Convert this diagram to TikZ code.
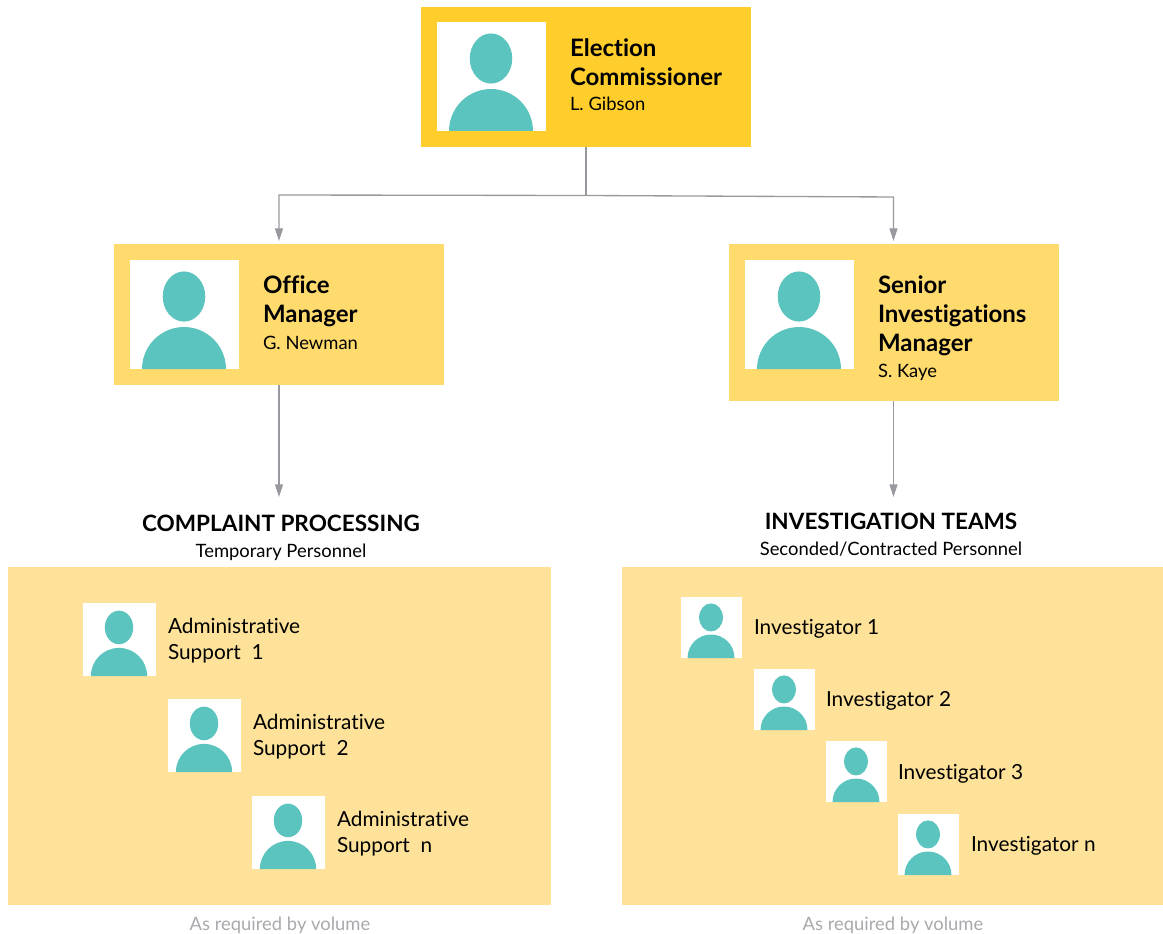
\documentclass[tikz,border=0pt]{standalone}
\usepackage{fontspec}
\setmainfont{Lato}[Ligatures=NoCommon]
\definecolor{topbox}{HTML}{FFCE2C}
\definecolor{midbox}{HTML}{FFDB6E}
\definecolor{panel}{HTML}{FEE299}
\definecolor{teal}{HTML}{5CC4BE}
\definecolor{conn}{HTML}{97999E}
\definecolor{greytext}{HTML}{A7A9AC}
\usetikzlibrary{arrows.meta}
\tikzset{
  x=0.75pt,y=-0.75pt,
  rbox/.style={inner sep=0,outer sep=0,anchor=north west,draw=none},
  flow/.style={draw=conn,line width=1pt,-{Triangle[length=9.5pt,width=6pt]}},
  bus/.style={draw=conn,line width=1pt},
  lab/.style={inner sep=0,outer sep=0,anchor=base west,text=black},
  clab/.style={inner sep=0,outer sep=0,anchor=base,text=black},
  titlefont/.style={font=\fontsize{18}{18}\selectfont\bfseries},
  namefont/.style={font=\fontsize{13.8}{13.8}\selectfont},
  bigfont/.style={font=\fontsize{15.6}{15.6}\selectfont},
  headfont/.style={font=\fontsize{16.9}{16.9}\selectfont\bfseries},
  noted/.style={font=\fontsize{13.8}{13.8}\selectfont,text=greytext},
}
% \person{name}{x}{y}{size}
\newcommand{\person}[4]{%
  \node[rbox,fill=white,minimum width=#4*0.75pt,minimum height=#4*0.75pt] (#1) at (#2,#3) {};
  \fill[teal] ({#2-0.5+0.5*#4},{#3+0.335*#4}) ellipse [x radius=0.195*#4*0.75pt,y radius=0.23*#4*0.75pt];
  \fill[teal] ({#2-0.5+0.115*#4},{#3+#4}) arc [start angle=180,end angle=0,x radius=0.385*#4*0.75pt,y radius=0.385*#4*0.75pt] -- cycle;
}
\begin{document}
\begin{tikzpicture}
\useasboundingbox (0,0) rectangle (1163,934);
% boxes
\node[rbox,fill=topbox,minimum width=247.5pt,minimum height=105pt] (ec) at (421,7) {};
\node[rbox,fill=midbox,minimum width=247.5pt,minimum height=105.75pt] (om) at (114,244) {};
\node[rbox,fill=midbox,minimum width=247.5pt,minimum height=117.75pt] (sim) at (729,244) {};
\node[rbox,fill=panel,minimum width=407.25pt,minimum height=253.5pt] (pa) at (8,567) {};
\node[rbox,fill=panel,minimum width=405.75pt,minimum height=253.5pt] (pb) at (622,567) {};
% photos
\person{pec}{437}{22}{109}
\person{pom}{130}{260}{109}
\person{psim}{745}{260}{109}
\person{pa1}{83}{603}{73}
\person{pa2}{168}{699}{73}
\person{pa3}{252}{796}{73}
\person{pi1}{681}{597}{61}
\person{pi2}{754}{669}{61}
\person{pi3}{826}{741}{61}
\person{pi4}{898}{814}{61}
% connector coordinates
\coordinate (bus) at (586,195.5);
\coordinate (cpend) at (279,497);
\coordinate (itend) at (893.5,497);
\draw[bus] (586,147) -- (bus);
\draw[flow,shorten >=3*0.75pt] (bus) -- (279,195) -- (279,244);
\draw[flow,shorten >=3*0.75pt] (bus) -- (893.5,197) -- (893.5,244);
\draw[flow] (279,385) -- (cpend);
\draw[flow] (893.5,401) -- (itend);
% text
\node[lab,titlefont] (t1) at (570,57) {Election};
\node[lab,titlefont] (t2) at (570,86) {Commissioner};
\node[lab,namefont] (t3) at (570,111) {L. Gibson};
\node[lab,titlefont] (t4) at (263,293) {Office};
\node[lab,titlefont] (t5) at (263,322) {Manager};
\node[lab,namefont] (t6) at (263,349) {G. Newman};
\node[lab,titlefont] (t7) at (878,293) {Senior};
\node[lab,titlefont] (t8) at (878,322) {Investigations};
\node[lab,titlefont] (t9) at (878,351) {Manager};
\node[lab,namefont] (t10) at (878,377) {S. Kaye};
\node[clab,headfont] (h1) at (281,531) {COMPLAINT PROCESSING};
\node[clab,namefont] (h2) at (281,557) {Temporary Personnel};
\node[clab,headfont] (h3) at (891,529) {INVESTIGATION TEAMS};
\node[clab,namefont] (h4) at (891,555) {Seconded/Contracted Personnel};
\node[lab,bigfont] (a1a) at (168,633) {Administrative};
\node[lab,bigfont] (a1b) at (168,659) {Support\ \ 1};
\node[lab,bigfont] (a2a) at (253,729) {Administrative};
\node[lab,bigfont] (a2b) at (253,755) {Support\ \ 2};
\node[lab,bigfont] (a3a) at (337,826) {Administrative};
\node[lab,bigfont] (a3b) at (337,852) {Support\ \ n};
\node[lab,bigfont] (i1) at (754,634) {Investigator 1};
\node[lab,bigfont] (i2) at (826,706) {Investigator 2};
\node[lab,bigfont] (i3) at (898,779) {Investigator 3};
\node[lab,bigfont] (i4) at (971,851) {Investigator n};
\node[clab,noted] (n1) at (280,930) {As required by volume};
\node[clab,noted] (n2) at (893,930) {As required by volume};
\end{tikzpicture}
\end{document}
